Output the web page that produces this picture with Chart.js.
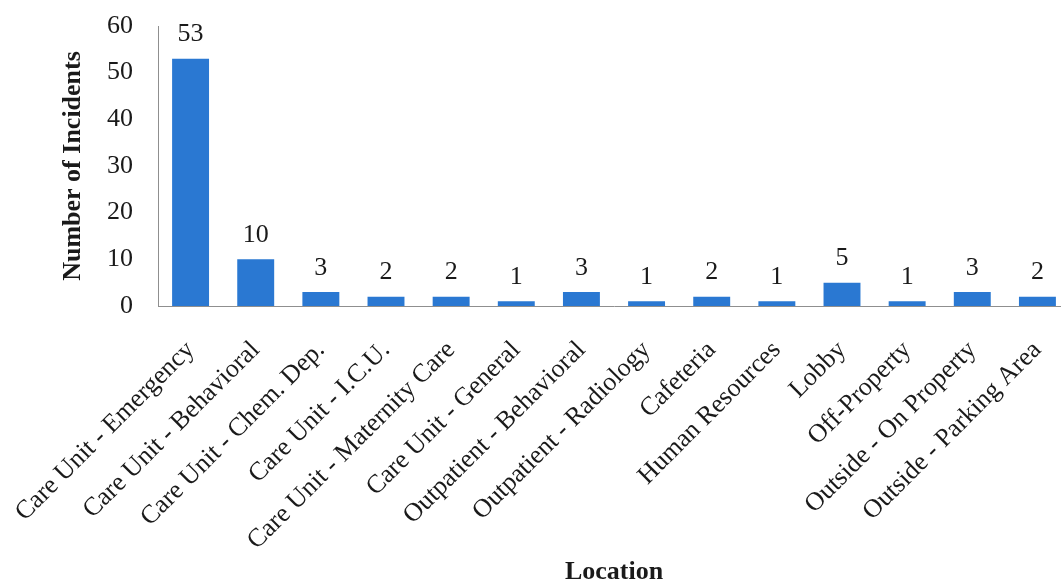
<!DOCTYPE html>
<html>
<head>
<meta charset="utf-8">
<script src="https://cdn.jsdelivr.net/npm/chart.js@4/dist/chart.umd.min.js"></script>
<style>
  html, body { margin: 0; padding: 0; background: #fff; overflow: hidden; }
  #wrap { width: 1070px; height: 582px; }
</style>
</head>
<body>
<div id="wrap"><canvas id="c" width="1070" height="582"></canvas></div>
<script>
const categories = [
  "Care Unit - Emergency", "Care Unit - Behavioral", "Care Unit - Chem. Dep.",
  "Care Unit - I.C.U.", "Care Unit - Maternity Care", "Care Unit - General",
  "Outpatient - Behavioral", "Outpatient - Radiology", "Cafeteria",
  "Human Resources", "Lobby", "Off-Property", "Outside - On Property",
  "Outside - Parking Area"
];
const incidents = [53, 10, 3, 2, 2, 1, 3, 1, 2, 1, 5, 1, 3, 2];
const yTicks = [0, 10, 20, 30, 40, 50, 60];
const yAxisTitle = "Number of Incidents";
const xAxisTitle = "Location";

const FONT = "'Liberation Serif', 'Times New Roman', serif";
const TEXT = "#1a1a1a";

const valueLabels = {
  id: 'valueLabels',
  afterDatasetsDraw(chart) {
    const ctx = chart.ctx;
    const meta = chart.getDatasetMeta(0);
    ctx.save();
    ctx.font = "26px " + FONT;
    ctx.fillStyle = TEXT;
    ctx.textAlign = 'center';
    ctx.textBaseline = 'bottom';
    meta.data.forEach((bar, i) => {
      ctx.fillText(String(chart.data.datasets[0].data[i]), bar.x, bar.y - 11);
    });
    ctx.restore();
  }
};

new Chart(document.getElementById('c'), {
  type: 'bar',
  data: {
    labels: categories,
    datasets: [{
      data: incidents,
      backgroundColor: '#2a78d2',
      borderWidth: 0,
      barPercentage: 0.9,
      categoryPercentage: 0.63
    }]
  },
  options: {
    responsive: false,
    animation: false,
    devicePixelRatio: 1,
    layout: { padding: { left: 0, top: 26, right: 0, bottom: 0 } },
    plugins: {
      legend: { display: false },
      tooltip: { enabled: false }
    },
    scales: {
      x: {
        afterFit(scale) { scale.paddingLeft = 0; scale.paddingRight = 0; scale.height = 276; },
        grid: { display: false, drawTicks: false },
        border: { display: true, color: '#8f8f8f', width: 1 },
        ticks: {
          autoSkip: false,
          maxRotation: 45,
          minRotation: 45,
          padding: 29,
          color: TEXT,
          font: { family: FONT, size: 26 }
        },
        title: {
          display: true,
          text: xAxisTitle,
          color: TEXT,
          font: { family: FONT, size: 26, weight: 'bold', lineHeight: 1 },
          padding: { top: 0, bottom: -3 }
        }
      },
      y: {
        min: 0,
        max: 60,
        afterBuildTicks(scale) { scale.ticks = yTicks.map(v => ({ value: v })); },
        afterFit(scale) { scale.width = 158; scale.paddingTop = 0; scale.paddingBottom = 0; },
        grid: { display: false, drawTicks: false },
        border: { display: true, color: '#8f8f8f', width: 1 },
        ticks: {
          padding: 25,
          color: TEXT,
          font: { family: FONT, size: 26 }
        },
        title: {
          display: true,
          text: yAxisTitle,
          color: TEXT,
          font: { family: FONT, size: 26, weight: 'bold', lineHeight: 1.2 },
          padding: { top: 58, bottom: 0 }
        }
      }
    }
  },
  plugins: [valueLabels]
});
</script>
</body>
</html>
